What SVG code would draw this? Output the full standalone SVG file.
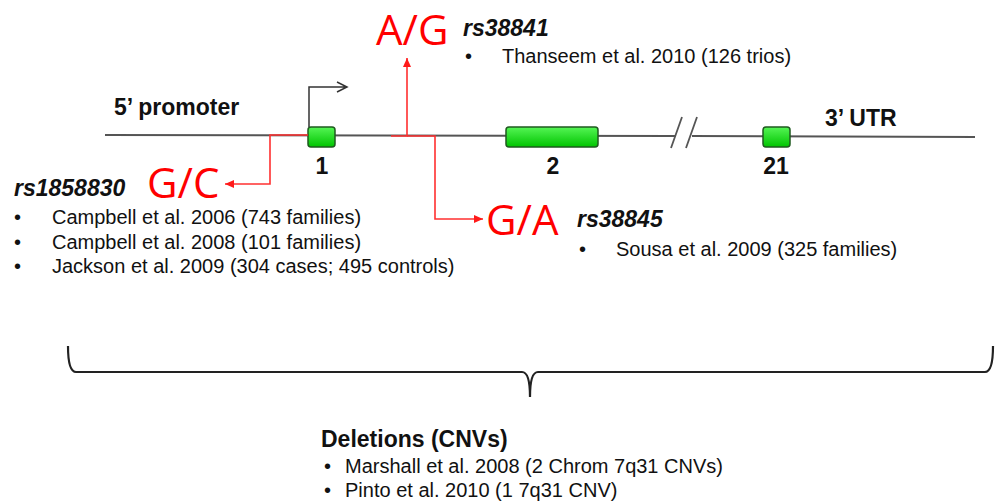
<svg xmlns="http://www.w3.org/2000/svg" width="997" height="503" viewBox="0 0 997 503">
<defs>
<style>
.t{font-family:"Liberation Sans",Arial,sans-serif;font-size:20px;fill:#111}
.b{font-family:"Liberation Sans",Arial,sans-serif;font-size:23px;font-weight:bold;fill:#111}
.rs{font-family:"Liberation Sans",Arial,sans-serif;font-size:23px;font-weight:bold;font-style:italic;fill:#111}
.al{font-family:"Open Sans","Noto Sans",sans-serif;font-size:42px;fill:#ff0000}
.line{stroke:#555;stroke-width:2;fill:none}
.red{stroke:#ff3030;stroke-width:1.6;fill:none}
.exon{fill:url(#g);stroke:#1f5a1f;stroke-width:1.5}
</style>
<linearGradient id="g" x1="0" y1="0" x2="0" y2="1">
<stop offset="0" stop-color="#55f555"/>
<stop offset="1" stop-color="#00c400"/>
</linearGradient>
<marker id="ra" markerWidth="10" markerHeight="10" refX="9" refY="5" orient="auto" markerUnits="userSpaceOnUse">
<path d="M0,1 L9,5 L0,9 Z" fill="#ff1a1a"/>
</marker>
</defs>
<g id="gene">
<path class="line" d="M105,135 L676,136 M692,136 L975,137"/>
<path d="M671,148 L682,117 M686,148 L697,117" stroke="#555" stroke-width="1.8" fill="none"/>
<text class="b" x="114" y="115">5’ promoter</text>
<text class="b" x="825" y="126">3’ UTR</text>
</g>
<g id="exon1">
<rect class="exon" x="308" y="127" width="27" height="20" rx="3"/>
<text class="b" x="322" y="174" text-anchor="middle">1</text>
</g>
<g id="exon2">
<rect class="exon" x="506" y="127" width="92" height="20" rx="3"/>
<text class="b" x="553" y="174" text-anchor="middle">2</text>
</g>
<g id="exon21">
<rect class="exon" x="763" y="127" width="27" height="20" rx="3"/>
<text class="b" x="776" y="174" text-anchor="middle">21</text>
</g>
<g id="connectors">
<path d="M309,127 L309,87 L347,87 M337,82 L347,87 L337,92" stroke="#333" stroke-width="1.5" fill="none"/>
<path class="red" d="M308,135 L270,135 L270,184 L225,184" marker-end="url(#ra)"/>
<path class="red" d="M391,136 L407,136 L407,58" marker-end="url(#ra)"/>
<path class="red" d="M407,136 L435,136 L435,219 L483,219" marker-end="url(#ra)"/>
</g>
<g id="snp-rs1858830">
<text class="al" x="147" y="198">G/C</text>
<text class="rs" x="14" y="196">rs1858830</text>
<text class="t" x="14" y="224">•</text>
<text class="t" x="52" y="224">Campbell et al. 2006 (743 families)</text>
<text class="t" x="14" y="249">•</text>
<text class="t" x="52" y="249">Campbell et al. 2008 (101 families)</text>
<text class="t" x="14" y="273">•</text>
<text class="t" x="52" y="273">Jackson et al. 2009 (304 cases; 495 controls)</text>
</g>
<g id="snp-rs38841">
<text class="al" x="376" y="45">A/G</text>
<text class="rs" x="463" y="36">rs38841</text>
<text class="t" x="465" y="63">•</text>
<text class="t" x="502" y="63">Thanseem et al. 2010 (126 trios)</text>
</g>
<g id="snp-rs38845">
<text class="al" x="486" y="235">G/A</text>
<text class="rs" x="577" y="227">rs38845</text>
<text class="t" x="579" y="256">•</text>
<text class="t" x="616" y="256">Sousa et al. 2009 (325 families)</text>
</g>
<g id="brace">
<path d="M68,346 Q68,372 76,372 L522,372 Q530,372 530,397 Q530,372 538,372 L985,372 Q993,372 993,346" stroke="#222" stroke-width="2.2" fill="none"/>
</g>
<g id="deletions">
<text class="b" x="321" y="447">Deletions (CNVs)</text>
<text class="t" x="324" y="473">•</text>
<text class="t" x="345" y="473">Marshall et al. 2008 (2 Chrom 7q31 CNVs)</text>
<text class="t" x="324" y="497">•</text>
<text class="t" x="345" y="497">Pinto et al. 2010 (1 7q31 CNV)</text>
</g>
</svg>
